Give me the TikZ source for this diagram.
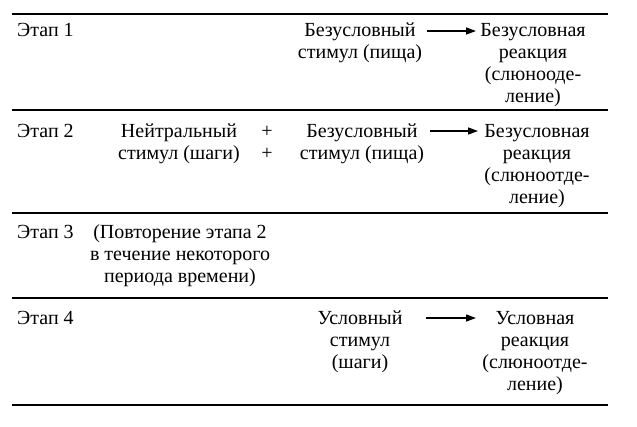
\documentclass[tikz,border=0pt]{standalone}
\usepackage{fontspec}
\setmainfont{Liberation Serif}
\usetikzlibrary{arrows.meta}
\begin{document}
\begin{tikzpicture}[x=1pt,y=-1pt,
  txt/.style={inner sep=0pt, align=center, font=\fontsize{20}{22}\selectfont, anchor=base},
  lbl/.style={inner sep=0pt, font=\fontsize{20}{22}\selectfont, anchor=base west},
  rule/.style={line width=1.6pt},
  arr/.style={line width=1.3pt, -{Triangle[length=10pt,width=7pt]}}]
\useasboundingbox (0,0) rectangle (637,426);
% rules
\coordinate (l0a) at (12,14);  \coordinate (l0b) at (608,14);
\coordinate (l1a) at (12,110); \coordinate (l1b) at (608,110);
\coordinate (l2a) at (12,213); \coordinate (l2b) at (608,213);
\coordinate (l3a) at (12,298); \coordinate (l3b) at (608,298);
\coordinate (l4a) at (12,405); \coordinate (l4b) at (608,405);
\foreach \i in {0,...,4} \draw[rule] (l\i a) -- (l\i b);
% row 1 (node base = last line baseline)
\node[lbl] (s1) at (17,36) {Этап 1};
\node[txt] (u1) at (360,58) {Безусловный\\стимул (пища)};
\node[txt] (r1) at (533,102) {Безусловная\\реакция\\(слюнооде-\\ление)};
\coordinate (a1s) at (427,31); \coordinate (a1e) at (476,31);
\draw[arr] (a1s) -- (a1e);
% row 2
\node[lbl] (s2) at (17,137) {Этап 2};
\node[txt] (n2) at (179,159) {Нейтральный\\стимул (шаги)};
\node[txt] (p2) at (267,159) {+\\+};
\node[txt] (u2) at (362,159) {Безусловный\\стимул (пища)};
\node[txt] (r2) at (537,203) {Безусловная\\реакция\\(слюноотде-\\ление)};
\coordinate (a2s) at (430,131); \coordinate (a2e) at (478,131);
\draw[arr] (a2s) -- (a2e);
% row 3
\node[lbl] (s3) at (17,238) {Этап 3};
\node[txt] (t3) at (180,282) {(Повторение этапа 2\\в течение некоторого\\периода времени)};
% row 4
\node[lbl] (s4) at (17,324) {Этап 4};
\node[txt] (c4) at (360,368) {Условный\\стимул\\(шаги)};
\node[txt] (r4) at (535,390) {Условная\\реакция\\(слюноотде-\\ление)};
\coordinate (a4s) at (426,318); \coordinate (a4e) at (476,318);
\draw[arr] (a4s) -- (a4e);
\end{tikzpicture}
\end{document}
